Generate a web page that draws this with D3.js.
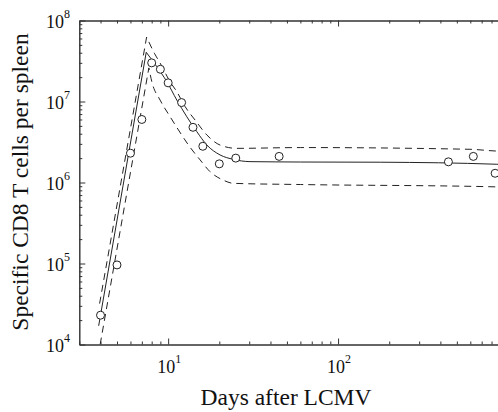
<!DOCTYPE html>
<html>
<head>
<meta charset="utf-8">
<script src="https://cdn.jsdelivr.net/npm/d3@7"></script>
<style>
  body { margin: 0; background: #fff; }
  .axis path, .axis line { stroke: #333; stroke-width: 1; }
  .lbl { font-family: "Liberation Serif", "DejaVu Serif", serif; fill: #111; }
</style>
</head>
<body>
<div id="vis"></div>
<script>
const FRAME_WIDTH = 498;
const FRAME_HEIGHT = 412;
const PLOT = {left: 79.3, right: 508, top: 20.5, bottom: 344.5};

// observed data points (days, cells per spleen)
const obsDays = [4, 5, 6, 7, 8, 9, 10, 12, 14, 16, 20, 25, 45, 446, 625, 840];
const obsCells = [2.3e4, 9.6e4, 2.3e6, 6.0e6, 3.0e7, 2.5e7, 1.7e7, 9.7e6, 4.8e6, 2.8e6,
                  1.7e6, 2.0e6, 2.1e6, 1.8e6, 2.1e6, 1.3e6];

// fitted curve (solid) - expansion then contraction
const fitRiseDays = [3.9, 7.43];
const fitRiseCells = [1.7e4, 4.05e7];
const fitFallDays = [7.43, 8.58, 9.83, 11.25, 12.88, 14.75, 16.9, 20.2, 24.2, 30.3, 60, 177, 860, 1000];
const fitFallCells = [4.05e7, 2.69e7, 1.75e7, 1.04e7, 6.48e6, 4.24e6, 2.9e6, 2.19e6, 1.93e6, 1.81e6,
                      1.79e6, 1.78e6, 1.68e6, 1.66e6];

// upper confidence band (dashed)
const upRiseDays = [3.95, 7.47];
const upRiseCells = [3.2e4, 6.25e7];
const upFallDays = [7.47, 8.3, 8.97, 10.27, 11.25, 12.59, 14.4, 16.9, 20.2, 25.3, 60, 597, 839, 1000];
const upFallCells = [6.25e7, 3.94e7, 2.98e7, 1.75e7, 1.32e7, 8.63e6, 5.91e6, 3.86e6, 2.9e6, 2.64e6,
                     2.7e6, 2.57e6, 2.45e6, 2.42e6];

// lower confidence band (dashed)
const loRiseDays = [3.98, 7.7];
const loRiseCells = [1.0e4, 2.6e7];
const loFallDays = [7.7, 8.02, 8.97, 10.27, 11.5, 13.17, 15.42, 17.65, 21.1, 24.2, 60, 783, 1000];
const loFallCells = [2.6e7, 1.75e7, 1.04e7, 6.49e6, 4.45e6, 2.9e6, 1.9e6, 1.36e6, 1.07e6, 9.77e5,
                     9.44e5, 8.87e5, 8.7e5];

const xMajor = [10, 100];
const yMajor = [1e4, 1e5, 1e6, 1e7, 1e8];

const FRAME = d3.select("#vis")
  .append("svg")
    .attr("width", FRAME_WIDTH)
    .attr("height", FRAME_HEIGHT);

FRAME.append("rect")
  .attr("width", FRAME_WIDTH).attr("height", FRAME_HEIGHT).attr("fill", "#fff");

const X_SCALE = d3.scaleLog().domain([3, 1000]).range([PLOT.left, PLOT.right]);
const Y_SCALE = d3.scaleLog().domain([1e4, 1e8]).range([PLOT.bottom, PLOT.top]);

const xMinor = X_SCALE.ticks().filter(d => xMajor.indexOf(d) < 0);
const yMinor = Y_SCALE.ticks().filter(d => yMajor.indexOf(d) < 0);

// axes with inward ticks on all four sides
function addAxis(axisFn, scale, tx, ty, major, minor) {
  FRAME.append("g").attr("class", "axis")
    .attr("transform", "translate(" + tx + "," + ty + ")")
    .call(axisFn(scale).tickValues(minor).tickSize(-3).tickSizeOuter(0).tickFormat(""));
  FRAME.append("g").attr("class", "axis")
    .attr("transform", "translate(" + tx + "," + ty + ")")
    .call(axisFn(scale).tickValues(major).tickSize(-6).tickSizeOuter(0).tickFormat(""));
}
addAxis(d3.axisBottom, X_SCALE, 0, PLOT.bottom, xMajor, xMinor);
addAxis(d3.axisTop, X_SCALE, 0, PLOT.top, xMajor, xMinor);
addAxis(d3.axisLeft, Y_SCALE, PLOT.left, 0, yMajor, yMinor);
addAxis(d3.axisRight, Y_SCALE, PLOT.right, 0, yMajor, yMinor);

// tick labels as 10 with superscript exponent
const yLab = FRAME.selectAll(".ylab").data(yMajor).enter()
  .append("text").attr("class", "lbl")
    .attr("x", 70)
    .attr("y", d => Y_SCALE(d) + 7.5)
    .attr("text-anchor", "end")
    .attr("font-size", 18);
yLab.append("tspan").text("10");
yLab.append("tspan").attr("font-size", 12).attr("dy", -10).text(d => Math.round(Math.log10(d)));

const xLab = FRAME.selectAll(".xlab").data(xMajor).enter()
  .append("text").attr("class", "lbl")
    .attr("x", d => X_SCALE(d) + 1)
    .attr("y", 373)
    .attr("text-anchor", "middle")
    .attr("font-size", 18);
xLab.append("tspan").text("10");
xLab.append("tspan").attr("font-size", 12).attr("dy", -10).text(d => Math.round(Math.log10(d)));

// axis titles
FRAME.append("text").attr("class", "lbl")
  .attr("x", 286).attr("y", 405)
  .attr("text-anchor", "middle")
  .attr("font-size", 23.5)
  .text("Days after LCMV");

FRAME.append("text").attr("class", "lbl")
  .attr("transform", "translate(28,182) rotate(-90)")
  .attr("text-anchor", "middle")
  .attr("font-size", 23.5)
  .text("Specific CD8 T cells per spleen");

// curves, clipped to the box
FRAME.append("clipPath").attr("id", "box")
  .append("rect")
    .attr("x", PLOT.left).attr("y", PLOT.top)
    .attr("width", PLOT.right - PLOT.left).attr("height", PLOT.bottom - PLOT.top);

const PLOTG = FRAME.append("g").attr("clip-path", "url(#box)");

const riseLine = d3.line().x(d => X_SCALE(d[0])).y(d => Y_SCALE(d[1]));
const fallLine = d3.line().x(d => X_SCALE(d[0])).y(d => Y_SCALE(d[1])).curve(d3.curveMonotoneX);

const curves = [
  {rise: d3.zip(fitRiseDays, fitRiseCells), fall: d3.zip(fitFallDays, fitFallCells), dash: null},
  {rise: d3.zip(upRiseDays, upRiseCells), fall: d3.zip(upFallDays, upFallCells), dash: "7,5"},
  {rise: d3.zip(loRiseDays, loRiseCells), fall: d3.zip(loFallDays, loFallCells), dash: "7,5"}
];

curves.forEach(c => {
  PLOTG.append("path")
    .attr("d", riseLine(c.rise) + fallLine(c.fall).replace(/^M/, "L"))
    .attr("fill", "none")
    .attr("stroke", "#222")
    .attr("stroke-width", 1)
    .attr("stroke-dasharray", c.dash);
});

// observed points
PLOTG.selectAll(".pt")
  .data(d3.zip(obsDays, obsCells))
  .enter()
  .append("circle")
    .attr("cx", d => X_SCALE(d[0]))
    .attr("cy", d => Y_SCALE(d[1]))
    .attr("r", 4)
    .attr("fill", "#fff")
    .attr("stroke", "#222")
    .attr("stroke-width", 1);
</script>
</body>
</html>
